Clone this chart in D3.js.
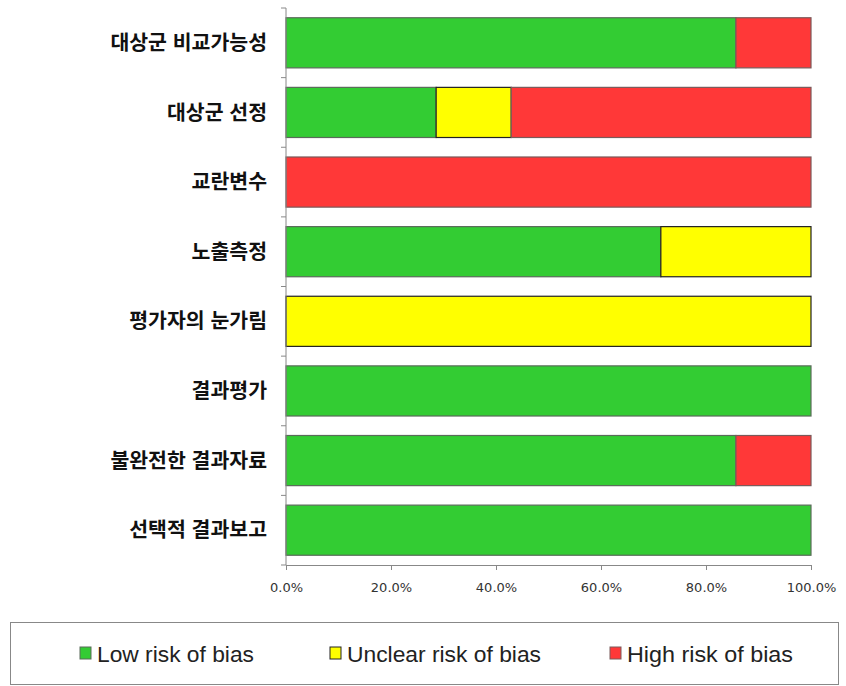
<!DOCTYPE html>
<html lang="ko">
<head>
<meta charset="UTF-8">
<title>Risk of bias</title>
<style>
  body { margin: 0; background: #fff; }
  svg text { font-family: "Noto Sans CJK KR", "Noto Sans", sans-serif; }
</style>
</head>
<body>
<svg id="chart" width="846" height="686"></svg>
<script src="https://d3js.org/d3.v7.min.js"></script>
<script>
const domains = ["대상군 비교가능성", "대상군 선정", "교란변수", "노출측정", "평가자의 눈가림", "결과평가", "불완전한 결과자료", "선택적 결과보고"];
const lowRisk     = [85.7, 28.6, 0, 71.4, 0, 100, 85.7, 100];
const unclearRisk = [0, 14.3, 0, 28.6, 100, 0, 0, 0];
const highRisk    = [14.3, 57.1, 100, 0, 0, 0, 14.3, 0];
const seriesNames = ["Low risk of bias", "Unclear risk of bias", "High risk of bias"];
const xTicks = [0, 20, 40, 60, 80, 100];

const colors = ["#33cc33", "#ffff00", "#ff3838"];
const strokes = ["#5a6b5a", "#222", "#7a5a5a"];

const svg = d3.select("#chart");
const margin = {top: 8, right: 35, bottom: 121, left: 286};
const width = 846, height = 686;

const rows = domains.map((d, i) => ({name: d, v: [lowRisk[i], unclearRisk[i], highRisk[i]]}));

const x = d3.scaleLinear().domain([0, 100]).range([margin.left, width - margin.right]);
const y = d3.scaleBand().domain(domains).range([margin.top, height - margin.bottom]).paddingInner(0.28).paddingOuter(0.14);

// bars
rows.forEach(r => {
  let start = 0;
  r.v.forEach((val, k) => {
    if (val > 0) {
      svg.append("rect")
        .attr("x", x(start))
        .attr("y", y(r.name))
        .attr("width", x(start + val) - x(start))
        .attr("height", y.bandwidth())
        .attr("fill", colors[k])
        .attr("stroke", strokes[k])
        .attr("stroke-width", 1.2);
    }
    start += val;
  });
});

// y axis with ticks on band boundaries
const yAxis = svg.append("g").attr("transform", `translate(${margin.left},0)`);
yAxis.append("line")
  .attr("x1", 0).attr("x2", 0)
  .attr("y1", margin.top).attr("y2", height - margin.bottom)
  .attr("stroke", "#888");
d3.range(domains.length + 1).forEach(i => {
  const yy = margin.top + i * (height - margin.top - margin.bottom) / domains.length;
  yAxis.append("line").attr("x1", -5).attr("x2", 0).attr("y1", yy).attr("y2", yy).attr("stroke", "#888");
});
yAxis.selectAll("text.lab")
  .data(domains)
  .enter().append("text")
  .attr("class", "lab")
  .attr("x", -19)
  .attr("y", d => y(d) + y.bandwidth() / 2)
  .attr("dy", "0.35em")
  .attr("text-anchor", "end")
  .attr("font-size", 20.5)
  .attr("font-weight", "bold")
  .attr("fill", "#111")
  .text(d => d);

// x axis
const xAxis = d3.axisBottom(x).tickValues(xTicks).tickSize(5).tickFormat(d => d.toFixed(1) + "%");
const gx = svg.append("g")
  .attr("transform", `translate(0,${height - margin.bottom})`)
  .call(xAxis);
gx.select(".domain").attr("stroke", "#888");
gx.selectAll(".tick line").attr("stroke", "#888");
gx.selectAll(".tick text")
  .attr("y", 22)
  .attr("dy", "0.35em")
  .attr("font-size", 13)
  .attr("fill", "#333")
  .style("font-family", "'DejaVu Sans', sans-serif");

// legend
const lg = svg.append("g");
lg.append("rect")
  .attr("x", 10.5).attr("y", 622.5)
  .attr("width", 828).attr("height", 62)
  .attr("fill", "#fff").attr("stroke", "#888").attr("stroke-width", 1);
const legendX = [80, 330, 610];
const legendW = [157, 194, 166];
seriesNames.forEach((s, k) => {
  lg.append("rect")
    .attr("x", legendX[k]).attr("y", 647)
    .attr("width", 11).attr("height", 12)
    .attr("fill", colors[k]).attr("stroke", strokes[k]);
  lg.append("text")
    .attr("x", legendX[k] + 17).attr("y", 654)
    .attr("dy", "0.35em")
    .attr("font-size", 22)
    .attr("fill", "#222")
    .attr("textLength", legendW[k])
    .attr("lengthAdjust", "spacingAndGlyphs")
    .style("font-family", "'Liberation Sans', sans-serif")
    .text(s);
});
</script>
</body>
</html>
